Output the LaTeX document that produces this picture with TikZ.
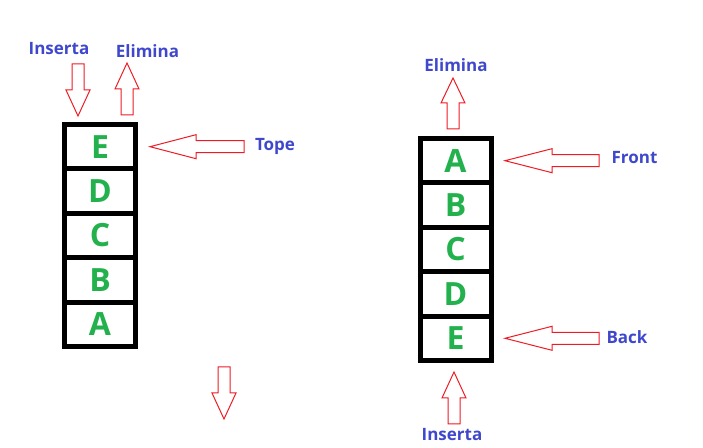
\documentclass[tikz,border=0pt]{standalone}
\usepackage{fontspec}
\setmainfont{Open Sans}
\usetikzlibrary{positioning}
\usetikzlibrary{calc}
\usetikzlibrary{matrix}

\definecolor{cellgreen}{HTML}{22B14C}
\definecolor{labelblue}{HTML}{3F48CC}
\definecolor{arrowred}{HTML}{ED1C24}

\tikzset{
  cell/.style={ draw, line width = 3.75pt
              , minimum height = 33.3pt
              , minimum width = 53.25pt
              , outer sep = 0pt
              , text = cellgreen
              , font = \bfseries\fontsize{24}{28}\selectfont
              },
  lbl/.style={ text = labelblue, anchor = base, inner sep = 0pt
             , font = \bfseries\fontsize{12.75}{15}\selectfont },
  pics/blockarrow/.style 2 args={code={
    \draw [arrowred, line width=0.75pt]
      (0,0) -- (#2,-12) -- (#2,-6) -- (#1,-6) -- (#1,6) -- (#2,6) -- (#2,12) -- cycle;
  }}
}

\begin{document}
\begin{tikzpicture}[x=0.75pt, y=-0.75pt]

  \useasboundingbox (0,0) rectangle (703,448);

  % stack
  \matrix (stackL) at (100,235.5) [matrix of nodes, nodes={cell}, row sep=-3.75pt]
  {
    E \\
    D \\
    C \\
    B \\
    A \\
  };

  \node [lbl] (insertaL) at (59,55) {Inserta};
  \node [lbl] (eliminaL) at (147.5,58) {Elimina};
  \node [lbl] (tope) at (275,151) {Tope};

  \pic [rotate=90] at ($(stackL-1-1.north)+(-22,-8.5)$) {blockarrow={52}{26}};
  \pic [rotate=-90] at ($(stackL-1-1.north)+(27,-61.5)$) {blockarrow={52}{26}};
  \pic at ($(stackL-1-1.east)+(14.5,0)$) {blockarrow={94}{46}};

  \pic [rotate=90] at (224,419) {blockarrow={52}{26}};

  % queue
  \matrix (queueR) at (455.5,249.5) [matrix of nodes, nodes={cell}, row sep=-3.75pt]
  {
    A \\
    B \\
    C \\
    D \\
    E \\
  };

  \node [lbl] (eliminaR) at (456,72) {Elimina};
  \node [lbl] (front) at (634.5,164) {Front};
  \node [lbl] (back) at (627,344) {Back};
  \node [lbl] (insertaR) at (452,441) {Inserta};

  \pic [rotate=-90] at ($(queueR-1-1.north)+(-2.5,-60.5)$) {blockarrow={51}{25}};
  \pic at ($(queueR-1-1.east)+(14,0)$) {blockarrow={94}{47}};
  \pic at ($(queueR-5-1.east)+(14,0)$) {blockarrow={94}{47}};
  \pic [rotate=-90] at ($(queueR-5-1.south)+(-1.5,11.5)$) {blockarrow={52}{26}};

\end{tikzpicture}
\end{document}
